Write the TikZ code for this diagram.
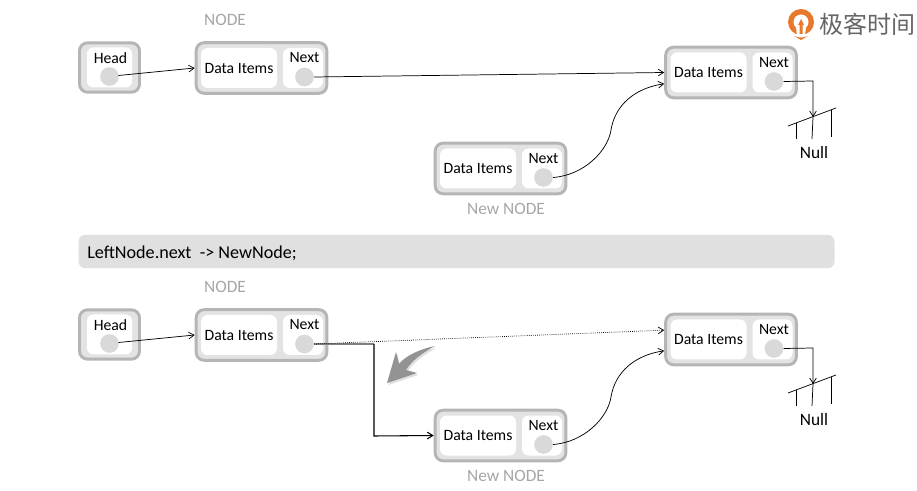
\documentclass[tikz,border=0pt]{standalone}
\usepackage{fontspec}
\setmainfont{Carlito}
\newfontfamily\cjk{Noto Sans CJK SC}
\usepackage{xcolor}
\usetikzlibrary{arrows.meta,shadows}

\definecolor{boxframe}{HTML}{B5B5B5}
\definecolor{boxfill}{HTML}{E3E3E3}
\definecolor{dotfill}{HTML}{D9D9D9}
\definecolor{bannerfill}{HTML}{E0E0E0}
\definecolor{captiongray}{HTML}{A6A6A6}
\definecolor{logoorange}{HTML}{E8792B}
\definecolor{logotext}{HTML}{666666}

\tikzset{
    outerbox/.style={draw=boxframe, line width=2.2pt, fill=boxfill, rounded corners=6pt, inner sep=0pt},
    cellbox/.style={fill=white, rounded corners=5pt, inner sep=0pt},
    datalabel/.style={font=\fontsize{11.8}{14}\selectfont, inner sep=0pt},
    dotnode/.style={circle, fill=dotfill, minimum size=14pt, inner sep=0pt},
    caption/.style={font=\fontsize{13}{15}\selectfont, text=captiongray, inner sep=0pt},
    link/.style={-{Straight Barb[length=4pt,width=5pt]}, line width=0.55pt},
    wire/.style={line width=0.55pt}
}

% one list node: frame, data cell, next cell and its dot
\newcommand{\listnode}[3]{
    \node[outerbox, minimum width=98pt, minimum height=38pt] (#1) at (#2,#3) {};
    \node[cellbox, minimum width=57pt, minimum height=30pt] (#1data) at (#2-22.5,#3) {};
    \node[cellbox, minimum width=30pt, minimum height=30pt] (#1cell) at (#2+41.5,#3) {};
    \node[datalabel] (#1text) at (#2-22.5,#3+0.5) {Data Items};
    \node[datalabel] (#1next) at (#2+43,#3-10) {Next};
    \node[dotnode] (#1dot) at (#2+43,#3+9) {};
}
\newcommand{\headnode}[3]{
    \node[outerbox, minimum width=45pt, minimum height=37pt] (#1) at (#2,#3) {};
    \node[cellbox, minimum width=34pt, minimum height=30pt] (#1cell) at (#2,#3) {};
    \node[datalabel] (#1text) at (#2+1,#3-9.5) {Head};
    \node[dotnode] (#1dot) at (#2,#3+9) {};
}
% the ground symbol under the last node
\newcommand{\nullmark}[2]{
    \coordinate (#1a) at (788,#2+9);
    \coordinate (#1b) at (836,#2-9);
    \coordinate (#1c) at (813,#2);
    \draw[wire] (#1a) -- (#1b);
    \draw[wire] (796,#2+6) -- (796,#2+22);
    \draw[wire] (#1c) -- (812,#2+22);
    \draw[wire] (831,#2-7) -- (831,#2+20);
    \node[datalabel, font=\fontsize{13}{15}\selectfont] (#1text) at (814,#2+36) {Null};
}

\begin{document}
\begin{tikzpicture}[x=0.75pt, y=-0.75pt]
    \useasboundingbox (0,0) rectangle (917,491);

    % Logo
    \fill[logoorange] (801,22) circle (13);
    \fill[white] (801,22) circle (7.5);
    \fill[white] (796,27) -- (806,27) -- (805,36) -- (797,36) -- cycle;
    \fill[logoorange] (794,36) .. controls (798,38) and (804,38) .. (808,36) -- (801,40) -- cycle;
    \fill[logoorange] (801,19) -- (804,25) -- (802.5,25) -- (802.5,34) -- (799.5,34) -- (799.5,25) -- (798,25) -- cycle;
    \node[inner sep=0pt, text=logotext, font=\cjk\fontsize{18}{20}\selectfont] (logotext) at (867,24) {极客时间};

    % Top list
    \node[caption] (nodetitle) at (225,20) {NODE};
    \headnode{head}{109.5}{67.5}
    \listnode{left}{261.5}{68}
    \listnode{right}{731}{72.5}
    \listnode{new}{500.5}{168.5}
    \node[caption] (newtitle) at (506,209) {New NODE};
    \nullmark{null}{117}

    \draw[link] (headdot.center) ++(9,-1) -- (left.west);
    \draw[link] (leftdot.east) -- (right.west);
    \draw[link] (newdot.east) .. controls (585,175) and (608,150) .. (611,130)
        .. controls (615,105) and (635,88) .. ([yshift=-8.5pt]right.west);
    \draw[wire,-{Straight Barb[length=4pt,width=5pt]}] (rightdot.east) -- (813,81) -- (nullc);

    % Code line
    \node[fill=bannerfill, rounded corners=5pt, minimum width=567pt, minimum height=25pt, inner sep=0pt] (banner) at (456.5,251.5) {};
    \node[anchor=west, inner sep=0pt, font=\fontsize{13.6}{16}\selectfont] (codeline) at (87,253) {LeftNode.next\ \ -> NewNode;};

    % Bottom list
    \node[caption] (nodetitleb) at (225,287) {NODE};
    \headnode{headb}{109.5}{334.5}
    \listnode{leftb}{261.5}{335}
    \listnode{rightb}{731}{339.5}
    \listnode{newb}{500.5}{435.5}
    \node[caption] (newtitleb) at (506,476) {New NODE};
    \nullmark{nullb}{384}

    \coordinate (bend) at (374,344);
    \draw[link] (headbdot.center) ++(9,-1) -- (leftb.west);
    \draw[gray, line width=0.9pt] (leftbdot.east) -- (bend);
    \draw[link, densely dotted] (leftbdot.east) -- ([yshift=7pt]rightb.west);
    \draw[link] (newbdot.east) .. controls (585,442) and (608,417) .. (611,397)
        .. controls (615,372) and (635,355) .. ([yshift=-8.5pt]rightb.west);
    \draw[wire,-{Straight Barb[length=4pt,width=5pt]}] (rightbdot.east) -- (813,348) -- (nullbc);
    \draw[link, line width=0.8pt] (bend) -- (374,436) -- (newb.west);

    % Grey arrow showing the move
    \fill[gray!85, drop shadow={opacity=0.25, shadow xshift=1pt, shadow yshift=-1.5pt}]
        (435,346) .. controls (420,349) and (405,356) .. (399,364)
        -- (396,352) -- (387,383) -- (417,373) -- (406,370)
        .. controls (412,360) and (424,352) .. cycle;
\end{tikzpicture}
\end{document}
